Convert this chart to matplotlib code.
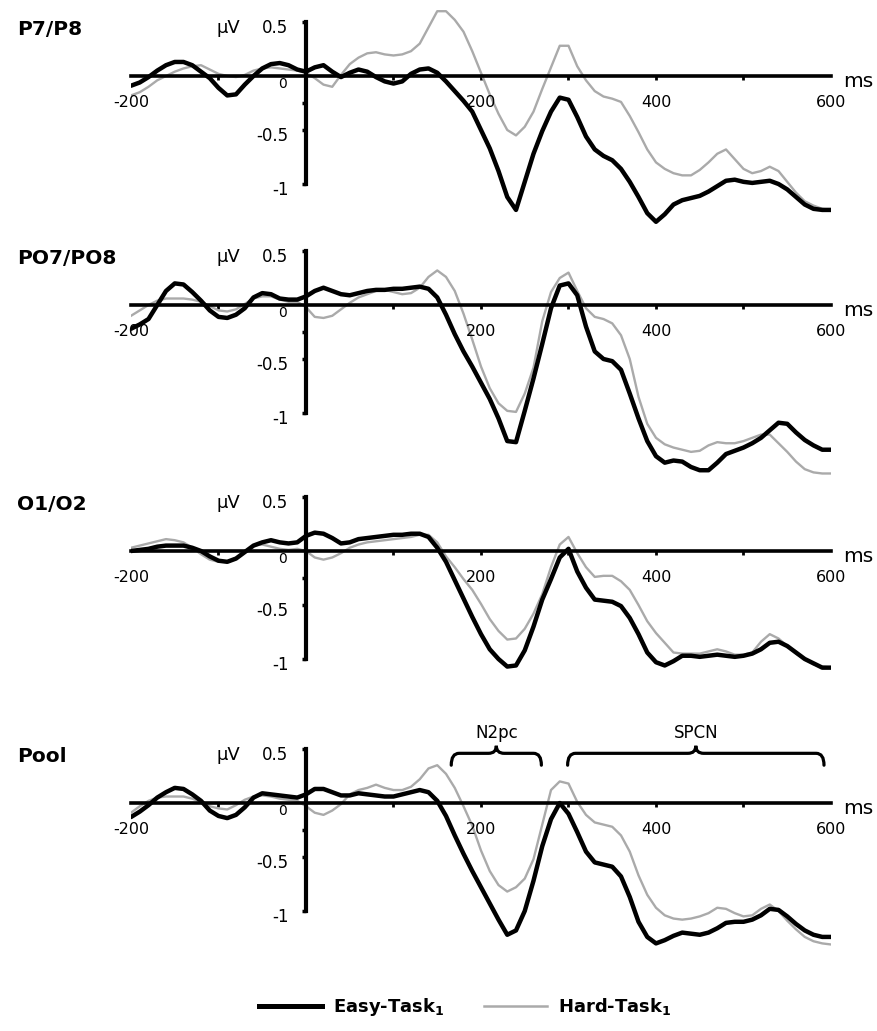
import numpy as np
import matplotlib
matplotlib.use("Agg")
import matplotlib.pyplot as plt
from matplotlib.path import Path
from matplotlib.patches import PathPatch
from matplotlib.lines import Line2D

# ---- grand-average waveforms (uV), 10 ms steps from -200 to 600 ms ----
time_ms = np.arange(-200, 601, 10)

panels = ["P7/P8", "PO7/PO8", "O1/O2", "Pool"]

p7p8_easy = [-0.09, -0.06, -0.01, 0.05, 0.10, 0.13, 0.13, 0.10, 0.04, -0.02,
             -0.11, -0.18, -0.17, -0.08, 0.00, 0.07, 0.11, 0.12, 0.10, 0.06,
             0.04, 0.08, 0.10, 0.04, -0.01, 0.03, 0.06, 0.04, -0.01, -0.05,
             -0.07, -0.05, 0.02, 0.06, 0.07, 0.03, -0.05, -0.14, -0.23, -0.33,
             -0.50, -0.67, -0.88, -1.12, -1.24, -0.98, -0.72, -0.51, -0.33, -0.20,
             -0.22, -0.38, -0.56, -0.68, -0.74, -0.78, -0.86, -0.98, -1.12, -1.27,
             -1.35, -1.28, -1.19, -1.15, -1.13, -1.11, -1.07, -1.02, -0.97, -0.96,
             -0.98, -0.99, -0.98, -0.97, -1.00, -1.05, -1.12, -1.19, -1.23, -1.24,
             -1.24]
p7p8_hard = [-0.18, -0.15, -0.10, -0.04, 0.00, 0.04, 0.07, 0.09, 0.10, 0.06,
             0.02, 0.00, -0.01, 0.01, 0.05, 0.07, 0.08, 0.07, 0.06, 0.05,
             0.03, -0.02, -0.08, -0.10, 0.01, 0.11, 0.17, 0.21, 0.22, 0.20,
             0.19, 0.20, 0.23, 0.30, 0.45, 0.60, 0.60, 0.52, 0.41, 0.23,
             0.03, -0.17, -0.35, -0.50, -0.55, -0.47, -0.33, -0.12, 0.08, 0.28,
             0.28, 0.09, -0.04, -0.14, -0.19, -0.21, -0.24, -0.37, -0.52, -0.68,
             -0.80, -0.86, -0.90, -0.92, -0.92, -0.87, -0.80, -0.72, -0.68, -0.77,
             -0.86, -0.90, -0.88, -0.84, -0.88, -0.98, -1.08, -1.16, -1.20, -1.23,
             -1.24]

po7po8_easy = [-0.22, -0.18, -0.13, 0.00, 0.13, 0.20, 0.19, 0.12, 0.04, -0.05,
               -0.11, -0.12, -0.09, -0.03, 0.07, 0.11, 0.10, 0.06, 0.05, 0.05,
               0.08, 0.13, 0.16, 0.13, 0.10, 0.09, 0.11, 0.13, 0.14, 0.14,
               0.15, 0.15, 0.16, 0.17, 0.15, 0.07, -0.09, -0.27, -0.43, -0.57,
               -0.72, -0.87, -1.05, -1.26, -1.27, -0.98, -0.68, -0.36, -0.03, 0.18,
               0.20, 0.09, -0.20, -0.43, -0.50, -0.52, -0.60, -0.82, -1.05, -1.26,
               -1.40, -1.46, -1.44, -1.45, -1.50, -1.53, -1.53, -1.46, -1.38, -1.35,
               -1.32, -1.28, -1.23, -1.16, -1.09, -1.10, -1.18, -1.25, -1.30, -1.34,
               -1.34]
po7po8_hard = [-0.10, -0.05, 0.00, 0.04, 0.06, 0.06, 0.06, 0.05, 0.03, -0.01,
               -0.05, -0.06, -0.04, 0.01, 0.06, 0.08, 0.08, 0.05, 0.03, 0.03,
               -0.02, -0.11, -0.12, -0.10, -0.04, 0.02, 0.07, 0.10, 0.13, 0.14,
               0.12, 0.10, 0.11, 0.16, 0.26, 0.32, 0.26, 0.13, -0.08, -0.32,
               -0.57, -0.77, -0.91, -0.98, -0.99, -0.82, -0.58, -0.15, 0.12, 0.25,
               0.30, 0.13, -0.03, -0.11, -0.13, -0.17, -0.28, -0.50, -0.85, -1.10,
               -1.23, -1.29, -1.32, -1.34, -1.36, -1.35, -1.30, -1.27, -1.28, -1.28,
               -1.26, -1.23, -1.20, -1.20, -1.28, -1.36, -1.45, -1.52, -1.55, -1.56,
               -1.56]

o1o2_easy = [0.00, 0.01, 0.02, 0.04, 0.05, 0.05, 0.05, 0.03, 0.00, -0.05,
             -0.09, -0.10, -0.07, -0.01, 0.05, 0.08, 0.10, 0.08, 0.07, 0.08,
             0.14, 0.17, 0.16, 0.12, 0.07, 0.08, 0.11, 0.12, 0.13, 0.14,
             0.15, 0.15, 0.16, 0.16, 0.13, 0.03, -0.10, -0.27, -0.44, -0.61,
             -0.77, -0.91, -1.00, -1.07, -1.06, -0.92, -0.70, -0.45, -0.26, -0.06,
             0.02, -0.19, -0.34, -0.45, -0.46, -0.47, -0.51, -0.62, -0.77, -0.94,
             -1.03, -1.06, -1.02, -0.97, -0.97, -0.98, -0.97, -0.96, -0.97, -0.98,
             -0.97, -0.95, -0.91, -0.85, -0.84, -0.88, -0.94, -1.00, -1.04, -1.08,
             -1.08]
o1o2_hard = [0.03, 0.05, 0.07, 0.09, 0.11, 0.10, 0.08, 0.03, -0.03, -0.08,
             -0.10, -0.10, -0.07, -0.01, 0.05, 0.06, 0.04, 0.02, 0.01, 0.02,
             0.00, -0.06, -0.08, -0.06, -0.02, 0.03, 0.06, 0.08, 0.09, 0.10,
             0.11, 0.12, 0.13, 0.15, 0.15, 0.08, -0.05, -0.15, -0.26, -0.36,
             -0.49, -0.63, -0.74, -0.82, -0.81, -0.72, -0.58, -0.40, -0.15, 0.06,
             0.13, -0.02, -0.15, -0.24, -0.23, -0.23, -0.28, -0.36, -0.50, -0.65,
             -0.76, -0.85, -0.94, -0.95, -0.95, -0.95, -0.93, -0.91, -0.93, -0.96,
             -0.96, -0.94, -0.84, -0.77, -0.81, -0.88, -0.95, -1.00, -1.05, -1.07,
             -1.08]

pool_easy = [-0.13, -0.08, -0.02, 0.05, 0.10, 0.14, 0.13, 0.08, 0.02, -0.07,
             -0.12, -0.14, -0.11, -0.04, 0.05, 0.09, 0.08, 0.07, 0.06, 0.05,
             0.08, 0.13, 0.13, 0.10, 0.07, 0.07, 0.09, 0.08, 0.07, 0.06,
             0.06, 0.08, 0.10, 0.12, 0.10, 0.02, -0.12, -0.30, -0.47, -0.63,
             -0.78, -0.93, -1.08, -1.22, -1.18, -1.00, -0.72, -0.40, -0.15, 0.00,
             -0.10, -0.27, -0.45, -0.55, -0.57, -0.59, -0.68, -0.87, -1.10, -1.24,
             -1.30, -1.27, -1.23, -1.20, -1.21, -1.22, -1.20, -1.16, -1.11, -1.10,
             -1.10, -1.08, -1.04, -0.98, -0.99, -1.05, -1.12, -1.18, -1.22, -1.24,
             -1.24]
pool_hard = [-0.09, -0.03, 0.02, 0.05, 0.06, 0.06, 0.06, 0.04, 0.01, -0.03,
             -0.05, -0.06, -0.02, 0.03, 0.06, 0.07, 0.06, 0.04, 0.03, 0.02,
             -0.03, -0.09, -0.11, -0.07, -0.01, 0.08, 0.12, 0.14, 0.17, 0.14,
             0.12, 0.12, 0.15, 0.22, 0.32, 0.35, 0.27, 0.14, -0.03, -0.21,
             -0.44, -0.63, -0.76, -0.82, -0.78, -0.70, -0.52, -0.20, 0.12, 0.20,
             0.18, 0.01, -0.11, -0.18, -0.20, -0.22, -0.30, -0.45, -0.67, -0.85,
             -0.97, -1.04, -1.07, -1.08, -1.07, -1.05, -1.02, -0.97, -0.98, -1.02,
             -1.05, -1.04, -0.98, -0.94, -1.00, -1.09, -1.17, -1.24, -1.28, -1.30,
             -1.31]

easy = [p7p8_easy, po7po8_easy, o1o2_easy, pool_easy]
hard = [p7p8_hard, po7po8_hard, o1o2_hard, pool_hard]

# component windows marked on the pooled panel (ms)
components = ["N2pc", "SPCN"]
comp_windows = [(166, 269), (299, 592)]

# ---- layout ----
W, H = 878, 1031
fig = plt.figure(figsize=(W / 100, H / 100), dpi=100)
plt.rcParams['font.family'] = ['DejaVu Sans']

PX_MS = 0.875          # pixels per ms
PX_UV = 108.0          # pixels per uV
X0 = 131               # pixel of -200 ms
zero_rows = [76, 305, 551, 803]   # pixel row of the 0 uV line in each panel
YLIM = (-1.65, 0.70)

EASY_C = "black"
HARD_C = "#aaaaaa"


def curly_brace(ax, t0, t1, v_end, v_bar, v_tip, r=9):
    tc = 0.5 * (t0 + t1)
    verts = [(t0, v_end), (t0, v_bar), (t0 + r, v_bar),
             (tc - r, v_bar),
             (tc, v_bar), (tc, v_tip),
             (tc, v_bar), (tc + r, v_bar),
             (t1 - r, v_bar),
             (t1, v_bar), (t1, v_end)]
    codes = [Path.MOVETO, Path.CURVE3, Path.CURVE3,
             Path.LINETO,
             Path.CURVE3, Path.CURVE3,
             Path.CURVE3, Path.CURVE3,
             Path.LINETO,
             Path.CURVE3, Path.CURVE3]
    ax.add_patch(PathPatch(Path(verts, codes), fill=False, lw=2.3,
                           color="black", capstyle="round", clip_on=False))


for i, name in enumerate(panels):
    y0 = zero_rows[i]
    top_px = y0 - YLIM[1] * PX_UV
    bot_px = y0 - YLIM[0] * PX_UV
    ax = fig.add_axes([X0 / W, 1 - bot_px / H, 800 * PX_MS / W,
                       (bot_px - top_px) / H])
    ax.set_facecolor("none")
    ax.set_xlim(-200, 600)
    ax.set_ylim(*YLIM)

    ax.plot(time_ms, hard[i], color=HARD_C, lw=1.7, zorder=2,
            solid_joinstyle="round")
    ax.plot(time_ms, easy[i], color=EASY_C, lw=3.2, zorder=3,
            solid_capstyle="round", solid_joinstyle="round")

    # axis crosses at (0 ms, 0 uV)
    for s in ["top", "right"]:
        ax.spines[s].set_visible(False)
    ax.spines["bottom"].set_position(("data", 0))
    ax.spines["bottom"].set_bounds(-200, 600)
    ax.spines["bottom"].set_linewidth(2.6)
    ax.spines["left"].set_position(("data", 0))
    ax.spines["left"].set_bounds(-1, 0.5)
    ax.spines["left"].set_linewidth(3.0)
    ax.set_xticks([-100, 100, 200, 300, 400, 500])
    ax.set_xticklabels([])
    ax.set_yticks([0.5, -0.25, -0.5, -1])
    ax.set_yticklabels([])
    ax.tick_params(axis="x", direction="out", length=3, width=2)
    ax.tick_params(axis="y", direction="out", length=3, width=2.5)

    # tick labels
    for t in [-200, 200, 400, 600]:
        ax.text(t, -0.25, str(t), ha="center", va="center", fontsize=11.5)
    ax.text(-27, -0.07, "0", ha="center", va="center", fontsize=10)
    for v, lab in [(0.5, "0.5"), (-0.5, "-0.5"), (-1, "-1")]:
        ax.text(-20, v - 0.055, lab, ha="right", va="center", fontsize=12)
    ax.text(-89, 0.445, "\u00b5V", ha="center", va="center", fontsize=13)
    ax.text(614, -0.055, "ms", ha="left", va="center", fontsize=14.5,
            clip_on=False)
    ax.text(-330, 0.43, name, ha="left", va="center", fontsize=14.5,
            fontweight="bold", clip_on=False)

    if name == "Pool":
        for comp, (t0, t1) in zip(components, comp_windows):
            curly_brace(ax, t0, t1, 0.35, 0.46, 0.53)
            ax.text(0.5 * (t0 + t1), 0.65, comp, ha="center", va="center",
                    fontsize=12)

handles = [Line2D([], [], color=EASY_C, lw=3.6),
           Line2D([], [], color=HARD_C, lw=1.8)]
fig.legend(handles, [r"Easy-Task$_\mathbf{1}$", r"Hard-Task$_\mathbf{1}$"],
           loc="center", bbox_to_anchor=(0.53, 1 - 1007 / H), ncol=2,
           frameon=False, handlelength=3.5, handletextpad=0.6,
           columnspacing=2.2, prop={"weight": "bold", "size": 13})

fig.savefig("out.png", dpi=100)
